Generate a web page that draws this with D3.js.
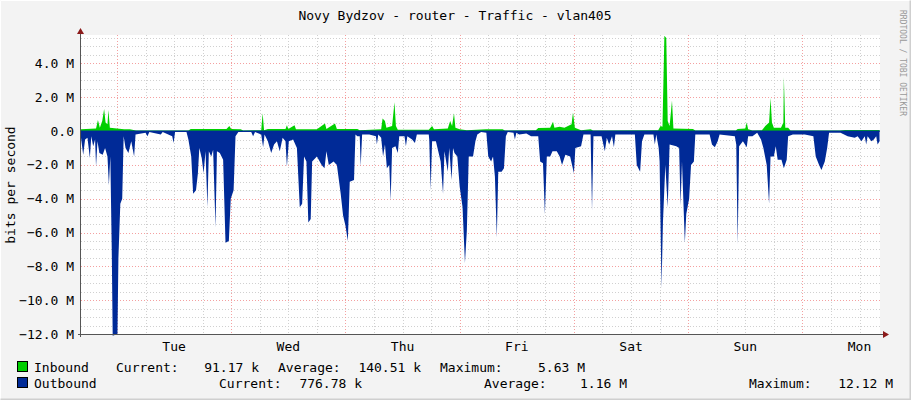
<!DOCTYPE html>
<html><head><meta charset="utf-8">
<script src="https://cdn.jsdelivr.net/npm/d3@7"></script>
<style>body{margin:0;background:#f3f3f3}svg{display:block}text{font-family:"DejaVu Sans Mono",monospace}</style>
</head><body><svg id="c" width="911" height="400"></svg>
<script>
const title = "Novy Bydzov - router - Traffic - vlan405";
const dayLabels = ["Tue","Wed","Thu","Fri","Sat","Sun","Mon"];
const yTicks = [4,2,0,-2,-4,-6,-8,-10,-12];
// hours since Monday 00:00, Mbit/s
const inbound = [[16.4,0.1],[19.6,0.15],[20.0,0.65],[20.4,0.2],[20.9,0.6],[21.3,1.3],[21.6,0.5],[22.0,0.4],[22.2,1.25],[22.5,0.2],[25.5,0.1],[26.7,0.1],[28,0.03],[39,0.03],[39.5,0.12],[47,0.12],[47.6,0.3],[48,0.12],[50,0.1],[50.5,0.03],[54.3,0.05],[54.6,1.05],[54.9,0.05],[55.7,0.12],[59.4,0.12],[59.7,0.35],[60.0,0.12],[61.3,0.35],[61.6,0.1],[66,0.1],[67.7,0.45],[68,0.12],[69.8,0.45],[70.2,0.12],[74.5,0.12],[75,0.05],[79.5,0.1],[79.8,0.75],[80.3,0.6],[80.6,0.2],[81.8,0.3],[82.3,1.7],[82.6,0.3],[83,0.08],[89.5,0.08],[90.2,0.3],[90.6,0.1],[93.5,0.15],[94.0,0.6],[94.4,0.3],[94.8,1.05],[95.1,0.2],[96,0.1],[97.5,0.05],[101.5,0.1],[105,0.1],[105.5,0.03],[112,0.05],[112.5,0.18],[115,0.2],[115.6,0.55],[115.9,0.2],[117,0.25],[118,0.2],[119.5,0.4],[119.8,1.1],[120.2,0.2],[121.5,0.05],[123.5,0.1],[124,0.03],[137.7,0.05],[138.2,0.3],[138.6,0.25],[139.0,5.63],[139.4,5.5],[139.7,0.6],[140.1,0.3],[140.6,1.8],[140.9,0.15],[145,0.12],[145.5,0.03],[154,0.03],[154.4,0.12],[156,0.15],[156.3,0.5],[156.6,0.1],[157.5,0.03],[159.5,0.05],[160.2,0.3],[161.0,0.5],[161.3,1.95],[161.6,0.5],[162,0.2],[163.5,0.2],[164.0,0.5],[164.1,3.2],[164.4,0.2],[165,0.2],[165.5,0.03],[176,0.03],[177,0.06],[184.2,0.06]];
const outbound = [[16.4,0.3],[16.9,1.4],[17.3,0.5],[17.8,0.4],[18.3,1.6],[18.6,0.3],[19.0,0.9],[19.4,0.5],[19.6,2.1],[19.9,0.6],[20.3,1.3],[21.0,1.4],[21.5,1.0],[22.0,1.5],[22.3,3.2],[22.6,1.5],[22.9,7.0],[23.1,12.1],[24.1,12.0],[24.3,7.5],[24.7,4.3],[25.1,4.0],[25.4,0.3],[25.8,1.0],[26.4,1.3],[27.0,0.6],[27.6,1.5],[27.9,0.2],[30,0.1],[30.4,0.3],[30.8,0.05],[33.2,0.2],[33.6,0.05],[35.6,0.3],[35.9,0.7],[36.2,0.05],
[38.6,0.05],[39.0,0.5],[39.6,1.5],[40.0,3.7],[40.6,3.5],[41.0,2.5],[41.3,1.0],[41.8,1.6],[42.2,2.5],[42.6,1.2],[43.0,4.5],[43.3,1.2],[43.8,1.5],[44.2,1.1],[44.7,5.7],[45.0,1.2],[45.6,1.3],[46.3,1.7],[46.8,6.6],[47.5,6.5],[47.9,4.0],[48.5,3.5],[48.9,0.3],[49.5,0.05],
[52.2,0.05],[52.6,0.3],[53.0,0.05],[54.3,0.2],[54.7,0.95],[55.0,0.2],[55.7,0.6],[56.4,1.3],[57.0,0.8],[57.6,0.6],[58.2,1.2],[58.8,0.4],[59.4,0.6],[59.7,2.1],[60.1,0.6],[61.0,0.5],[61.8,1.0],[62.4,4.5],[62.9,4.3],[63.3,1.5],[63.8,1.8],[64.2,5.4],[64.7,5.2],[65.0,1.8],[66.0,1.5],[67.0,2.0],[67.6,2.2],[68.0,1.2],[68.5,2.0],[69.5,1.8],[70.2,2.0],[71.0,3.7],[71.5,5.0],[72.0,5.6],[72.5,6.5],[72.9,3.0],[73.8,2.9],[74.1,0.2],[74.5,0.3],
[75.0,0.3],[75.2,2.1],[75.5,0.2],[77,0.2],[78.4,0.3],[78.6,0.8],[78.9,0.2],[79.5,0.4],[79.9,1.5],[80.3,0.8],[80.7,2.2],[81.2,2.0],[81.5,4.1],[81.8,1.0],[82.5,0.9],[83.0,1.3],[83.3,0.3],[84.4,0.3],[84.7,0.9],[85.0,0.3],[86.0,0.5],[86.6,0.7],[87.0,0.2],[89.5,0.2],
[89.6,0.5],[89.9,3.5],[90.2,0.6],[91.0,0.6],[92.0,1.8],[92.5,3.7],[92.8,1.2],[93.5,2.4],[93.8,1.0],[94.3,2.9],[94.6,1.0],[94.9,1.3],[95.5,1.5],[96.0,3.3],[96.6,4.5],[97.1,7.8],[97.5,5.9],[97.9,1.5],[98.8,1.5],[99.3,0.6],[99.7,0.2],[100.5,0.05],
[101.6,0.1],[102,1.5],[102.6,1.8],[103.0,1.5],[103.4,2.7],[103.8,6.3],[104.1,2.4],[104.8,2.4],[105.3,2.2],[105.7,0.3],[106.1,0.05],[107.3,0.1],[107.6,0.5],[107.9,0.1],[108.5,0.2],[110,0.15],[111,0.3],
[112.5,0.3],[112.9,1.8],[113.5,1.9],[113.9,4.9],[114.3,1.5],[115.0,1.5],[115.5,1.2],[116.4,1.2],[117.0,1.5],[117.5,2.0],[118.2,1.4],[119.2,1.5],[120.0,2.5],[120.3,1.0],[121.5,0.9],[122.0,0.2],[123.5,0.2],[123.8,4.7],[124.1,0.3],[125.8,0.3],[126.5,1.2],[126.9,0.4],[127.4,0.8],[128.0,0.3],[128.4,0.95],[128.7,0.2],
[132.8,0.2],[133.2,2.0],[133.9,2.4],[134.3,0.6],[134.8,0.2],[136.7,0.2],[137.0,0.8],[137.3,0.2],[137.8,1.0],[138.0,1.8],[138.4,9.3],[138.7,5.4],[139.2,2.0],[139.7,4.5],[140.1,0.8],[141.5,0.9],[142.1,1.0],[142.4,4.4],[142.7,1.8],[143.3,6.6],[143.6,4.9],[144.2,4.0],[144.6,2.0],[145.2,1.8],[145.5,0.2],
[148.5,0.2],[149.0,0.8],[149.6,0.95],[150.2,0.6],[150.6,0.2],[153.8,0.3],[154.1,0.8],[154.4,6.7],[154.7,0.9],[155.5,0.6],[156.3,0.95],[156.6,0.3],[157.5,0.3],[158.5,0.1],
[159.3,0.5],[159.8,1.0],[160.5,2.0],[161.0,4.3],[161.3,1.5],[162.0,1.5],[162.4,0.9],[162.8,1.7],[163.6,1.7],[164.1,2.2],[164.7,1.7],[165.0,0.3],[166,0.2],[168.5,0.2],
[170.3,0.3],[170.8,1.5],[171.5,2.0],[172.0,2.3],[172.7,1.8],[173.2,1.0],[173.6,0.1],[176,0.1],[177.5,0.3],[179.0,0.4],[179.6,0.3],[180.4,0.6],[181.1,0.3],[181.4,0.8],[181.7,0.3],[182.5,0.6],[183.0,0.5],[183.5,0.3],[183.8,0.8],[184.2,0.6]];
const legendIn = ["Inbound","Current:","91.17 k","Average:","140.51 k","Maximum:","5.63 M"];
const legendOut = ["Outbound","Current:","776.78 k","Average:","1.16 M","Maximum:","12.12 M"];

const svg = d3.select("#c");
const L=81,R=880,T=35,B=334;
const x = d3.scaleLinear().domain([16.44,184.3]).range([L,R]);
const y = d3.scaleLinear().domain([-12,5.68]).range([B,T]);
svg.append("rect").attr("x",0).attr("y",0).attr("width",911).attr("height",400).attr("fill","#f3f3f3");
svg.append("path").attr("d","M0.5,399.5V0.5H910.5").attr("stroke","#fff").attr("fill","none");
svg.append("path").attr("d","M910.5,0.5V399.5H0.5").attr("stroke","#cfcfcf").attr("stroke-width",2).attr("fill","none");
svg.append("rect").attr("x",L).attr("y",T).attr("width",R-L).attr("height",B-T).attr("fill","#fff");
const g=svg.append("g");
for(let h=24;h<185;h+=6){ if(h%24===0) continue; g.append("line").attr("x1",Math.round(x(h))+0.5).attr("x2",Math.round(x(h))+0.5).attr("y1",T).attr("y2",B).attr("stroke","#d0d0d0").attr("stroke-dasharray","1,2");}
for(let v=-12;v<=5.5;v+=0.5){ if(v%2===0) continue; g.append("line").attr("x1",L).attr("x2",R).attr("y1",Math.round(y(v))+0.5).attr("y2",Math.round(y(v))+0.5).attr("stroke","#d0d0d0").attr("stroke-dasharray","1,2");}
for(let h=24;h<185;h+=24){ g.append("line").attr("x1",Math.round(x(h))+0.5).attr("x2",Math.round(x(h))+0.5).attr("y1",T).attr("y2",B).attr("stroke","#f4a0a0").attr("stroke-dasharray","1,2");}
yTicks.forEach(v=>{ g.append("line").attr("x1",L).attr("x2",R).attr("y1",Math.round(y(v))+0.5).attr("y2",Math.round(y(v))+0.5).attr("stroke","#f4a0a0").attr("stroke-dasharray","1,2");
 svg.append("text").attr("x",74).attr("y",y(v)+4.5).attr("text-anchor","end").attr("font-size",13).attr("fill","#000").text(v===0?"0.0":d3.format(".1f")(v)+" M");});
const aIn=d3.area().x(d=>x(d[0])).y0(y(0)).y1(d=>y(d[1]));
const aOut=d3.area().x(d=>x(d[0])).y0(y(0)).y1(d=>y(-d[1]));
svg.append("path").attr("d",aIn(inbound)).attr("fill","#00cf00");
svg.append("path").attr("d",aOut(outbound)).attr("fill","#002a97");
svg.append("line").attr("x1",L).attr("x2",R).attr("y1",y(0)).attr("y2",y(0)).attr("stroke","#002a97").attr("stroke-width",1);
svg.append("line").attr("x1",L-0.5).attr("x2",L-0.5).attr("y1",T-5).attr("y2",B+3).attr("stroke","#555");
svg.append("line").attr("x1",L-3).attr("x2",R+3).attr("y1",B+0.5).attr("y2",B+0.5).attr("stroke","#555");
svg.append("path").attr("d",`M${L-4},${T-1}L${L-0.5},${T-7}L${L+3},${T-1}Z`).attr("fill","#8b1a1a");
svg.append("path").attr("d",`M${R+3},${B-3}L${R+9},${B+0.5}L${R+3},${B+4}Z`).attr("fill","#8b1a1a");
dayLabels.forEach((d,i)=>svg.append("text").attr("x",x(36+24*i)).attr("y",351).attr("text-anchor","middle").attr("font-size",13).text(d));
svg.append("text").attr("x",455).attr("y",20).attr("text-anchor","middle").attr("font-size",13).text(title);
svg.append("text").attr("transform","translate(15,185) rotate(-90)").attr("text-anchor","middle").attr("font-size",13).text("bits per second");
svg.append("text").attr("transform","translate(900,10) rotate(90)").attr("font-size",8).attr("fill","#999").text("RRDTOOL / TOBI OETIKER");
function row(yy,col,items,xs){
 svg.append("rect").attr("x",17.5).attr("y",yy-10.5).attr("width",10).attr("height",10).attr("fill",col).attr("stroke","#000");
 items.forEach((t,i)=>svg.append("text").attr("x",xs[i]).attr("y",yy).attr("font-size",13).attr("text-anchor",(i%2===0&&i>0)?"end":"start").text(t));
}
row(372,"#00cf00",legendIn,[34,116,259,278,421,440,585]);
row(388,"#002a97",legendOut,[34,219,362,484,627,749,893]);
</script></body></html>
